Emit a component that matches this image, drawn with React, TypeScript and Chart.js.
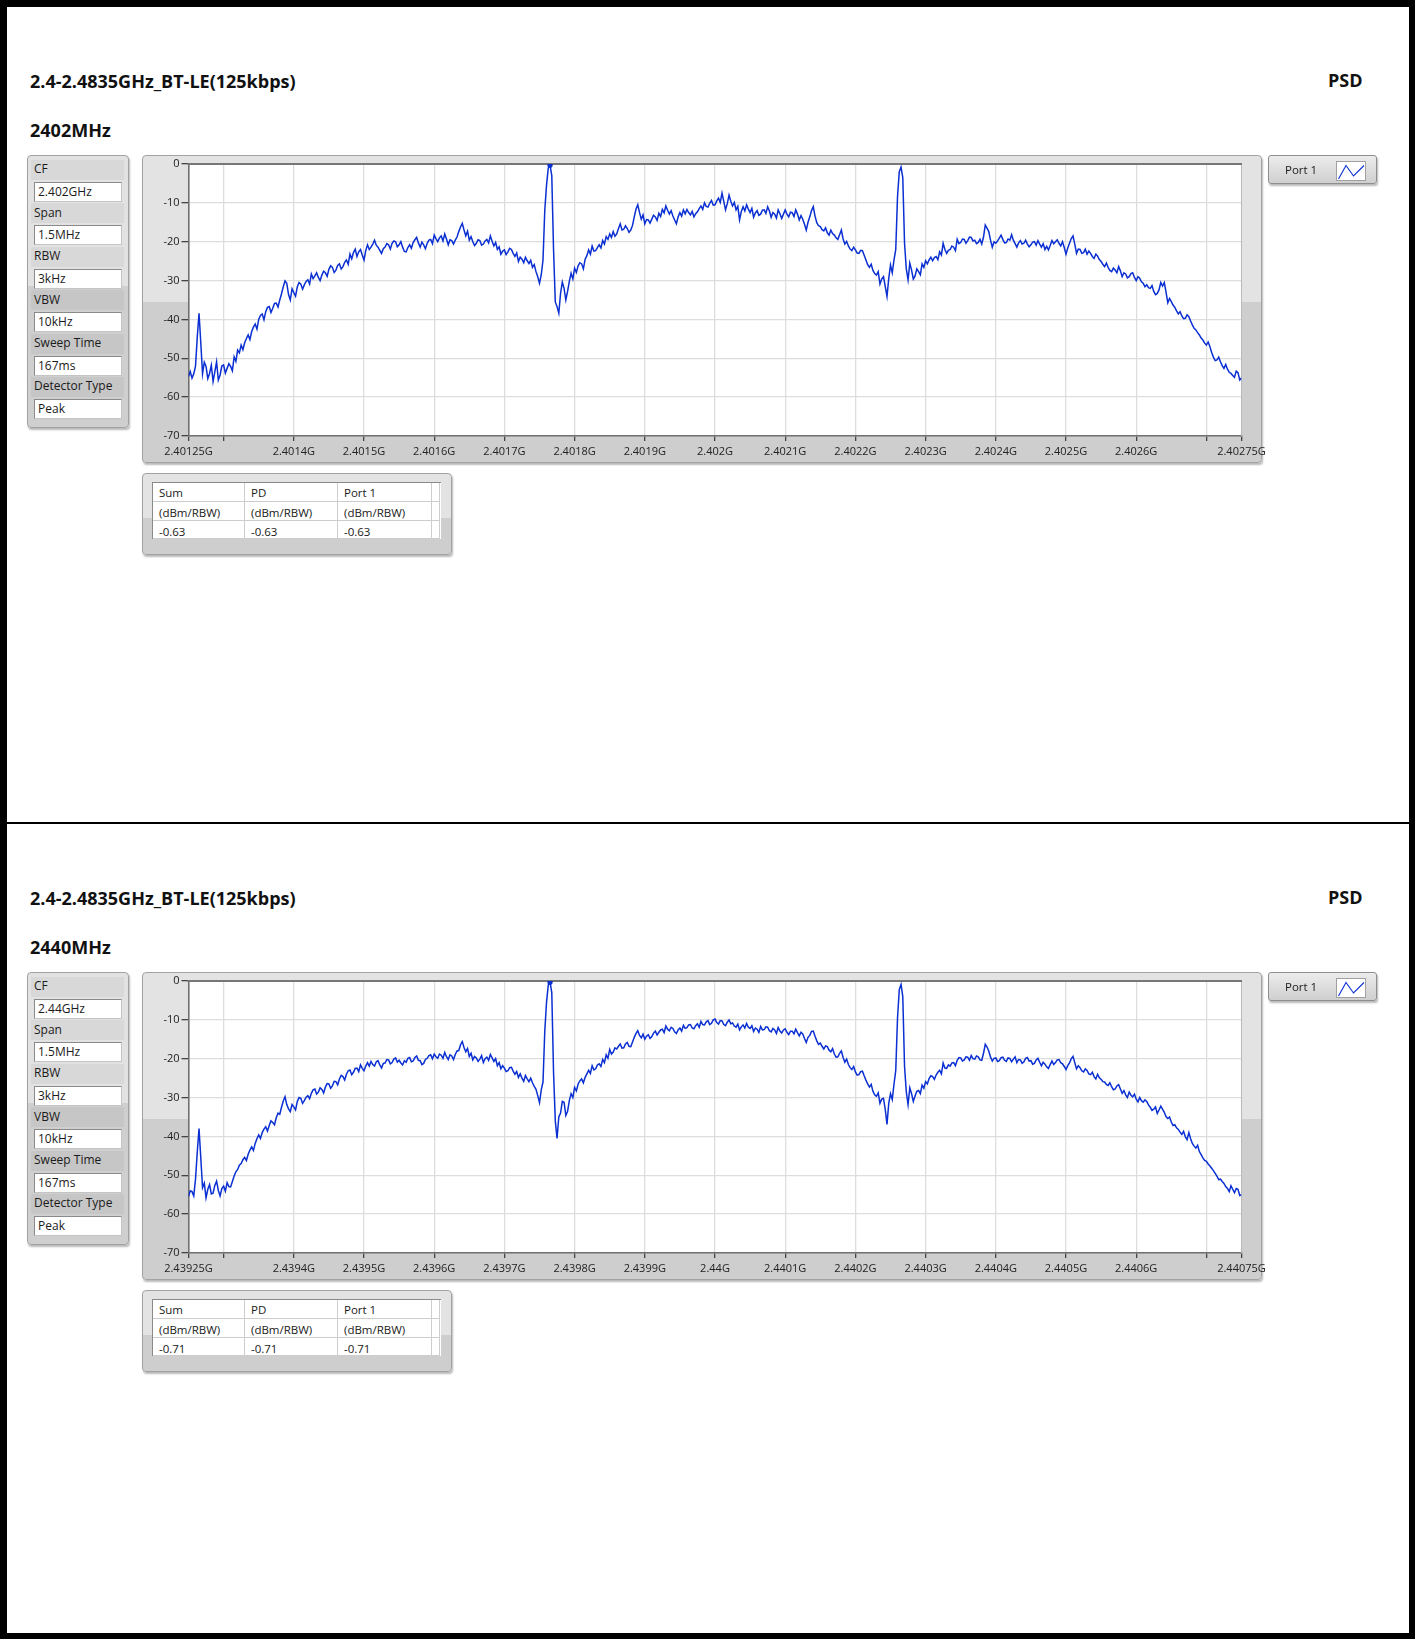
import React, { useEffect, useRef } from "react";
import { Chart, registerables } from "chart.js";

Chart.register(...registerables);

const FONT = '"Open Sans", "Noto Sans", "DejaVu Sans", sans-serif';
const TRACE_COLOR = "#0a2fd2";
const GRID_COLOR = "#dddddd";

// ---------- data ----------
const SPAN_KHZ = 1500;
const STEP_KHZ = 2.5;
const X_TICK_OFFSETS_KHZ = [0, 50, 150, 250, 350, 450, 550, 650, 750, 850, 950, 1050, 1150, 1250, 1350, 1450, 1500];
const TOP_X_TICK_LABELS = ["2.40125G", "", "2.4014G", "2.4015G", "2.4016G", "2.4017G", "2.4018G", "2.4019G", "2.402G", "2.4021G", "2.4022G", "2.4023G", "2.4024G", "2.4025G", "2.4026G", "", "2.40275G"];
const BOTTOM_X_TICK_LABELS = ["2.43925G", "", "2.4394G", "2.4395G", "2.4396G", "2.4397G", "2.4398G", "2.4399G", "2.44G", "2.4401G", "2.4402G", "2.4403G", "2.4404G", "2.4405G", "2.4406G", "", "2.44075G"];
const Y_TICK_VALUES = [0, -10, -20, -30, -40, -50, -60, -70];

const PARAM_LABELS = ["CF", "Span", "RBW", "VBW", "Sweep Time", "Detector Type"];
const TOP_PARAM_VALUES = ["2.402GHz", "1.5MHz", "3kHz", "10kHz", "167ms", "Peak"];
const BOTTOM_PARAM_VALUES = ["2.44GHz", "1.5MHz", "3kHz", "10kHz", "167ms", "Peak"];

const TABLE_HEADERS = ["Sum", "PD", "Port 1"];
const TABLE_UNITS = ["(dBm/RBW)", "(dBm/RBW)", "(dBm/RBW)"];
const TOP_TABLE_VALUES = ["-0.63", "-0.63", "-0.63"];
const BOTTOM_TABLE_VALUES = ["-0.71", "-0.71", "-0.71"];

const TOP_MARKER_KHZ = 515;
const BOTTOM_MARKER_KHZ = 515;

// PSD trace, dBm/RBW, one value every 2.5 kHz across the 1.5 MHz span
const TOP_TRACE_DBM = [
  -54.7, -53.4, -55.1, -54.0, -52.0, -44.5, -38.4, -46.0, -54.0, -51.0,
  -52.1, -55.2, -53.9, -51.8, -56.0, -53.5, -50.9, -55.6, -54.3, -52.0,
  -51.7, -53.8, -52.6, -51.4, -52.1, -53.2, -49.6, -50.8, -47.9, -48.6,
  -46.6, -47.8, -46.0, -44.9, -44.0, -45.2, -43.1, -42.0, -41.2, -42.5,
  -40.0, -39.0, -38.6, -40.1, -38.0, -36.9, -36.7, -38.2, -37.1, -35.9,
  -35.8, -36.8, -35.0, -33.4, -31.6, -30.1, -30.7, -33.6, -35.0, -32.1,
  -33.1, -34.0, -31.6, -30.5, -30.9, -32.2, -31.1, -30.2, -29.8, -30.9,
  -28.3, -29.5, -28.8, -28.0, -29.2, -30.0, -28.6, -27.6, -28.0, -28.9,
  -27.1, -26.2, -26.6, -27.9, -27.3, -26.1, -25.7, -27.0, -26.4, -25.3,
  -24.7, -25.8, -23.2, -24.4, -22.8, -21.9, -23.8, -22.6, -22.0, -23.4,
  -24.7, -22.3, -20.8, -22.0, -21.4, -20.6, -19.6, -20.9, -21.4, -22.2,
  -23.0, -21.8, -21.4, -20.5, -20.8, -21.9, -20.4, -19.8, -20.0, -21.3,
  -20.8, -20.0, -21.4, -22.5, -22.6, -21.5, -20.8, -21.7, -20.2, -19.5,
  -18.9, -20.3, -21.4, -20.1, -20.8, -21.8, -20.4, -19.6, -19.4, -20.5,
  -18.3, -19.2, -20.0, -19.0, -18.5, -19.8, -18.0, -19.3, -20.8, -19.5,
  -19.7, -20.6, -19.6, -18.8, -17.4, -16.2, -15.3, -17.0, -18.5, -17.3,
  -19.6, -18.7, -20.0, -21.0, -20.4, -19.5, -19.7, -20.9, -20.6, -19.8,
  -19.4, -20.3, -18.5, -19.9, -21.1, -20.2, -22.0, -21.3, -23.2, -22.4,
  -22.1, -23.3, -22.6, -21.7, -22.0, -23.0, -23.8, -22.9, -25.1, -24.0,
  -24.5, -25.4, -24.0, -24.9, -25.6, -24.8, -26.6, -25.9, -27.7, -29.0,
  -30.7, -28.5, -24.7, -12.0, -5.5, -1.0, -0.3, -3.0, -22.0, -35.5,
  -36.7, -38.4, -33.3, -30.4, -32.0, -35.0, -32.8, -30.2, -28.1, -29.6,
  -26.8, -27.9, -26.2, -25.4, -25.7, -27.0, -24.5, -23.6, -22.1, -23.2,
  -21.1, -22.4, -22.3, -21.5, -20.8, -21.6, -19.7, -20.6, -18.7, -19.4,
  -18.0, -18.9, -17.4, -18.6, -18.0, -16.6, -15.4, -17.0, -16.8, -15.9,
  -16.6, -17.6, -17.0, -15.8, -13.6, -11.6, -10.5, -12.5, -14.2, -13.1,
  -15.4, -14.3, -14.4, -15.2, -14.2, -13.2, -13.6, -14.5, -12.7, -13.5,
  -11.7, -12.6, -10.8, -11.9, -12.9, -12.0, -13.4, -14.4, -15.4, -13.6,
  -12.5, -13.4, -11.8, -12.8, -11.7, -12.5, -13.1, -12.2, -13.6, -12.8,
  -12.3, -11.5, -10.8, -11.7, -10.0, -10.9, -11.1, -10.1, -9.4, -10.6,
  -10.5, -9.5, -8.8, -9.9, -7.5, -9.6, -11.8, -10.2, -8.0, -9.6,
  -10.8, -9.9, -11.8, -10.9, -14.4, -12.2, -11.0, -12.1, -10.5, -11.6,
  -12.5, -11.4, -13.7, -12.6, -12.0, -13.2, -12.9, -11.9, -11.8, -12.7,
  -11.0, -12.1, -13.7, -12.5, -12.9, -13.9, -11.8, -12.8, -14.0, -12.9,
  -11.8, -12.9, -13.6, -12.4, -12.5, -13.5, -11.8, -12.9, -14.4, -13.3,
  -14.2, -15.5, -17.0, -15.0, -13.6, -12.0, -11.0, -13.4, -15.1, -15.9,
  -16.1, -16.9, -17.2, -16.4, -17.7, -18.3, -17.0, -17.9, -18.3, -19.0,
  -19.4, -18.2, -17.0, -19.3, -20.6, -19.9, -21.1, -21.9, -22.3, -21.4,
  -22.1, -22.9, -23.0, -22.2, -22.3, -23.5, -24.7, -25.9, -26.6, -25.8,
  -27.4, -28.2, -28.6, -27.7, -30.9, -29.6, -29.0, -31.5, -34.1, -29.5,
  -26.0, -28.0, -24.7, -22.0, -8.4, -2.0, -0.8, -3.5, -20.4, -27.0,
  -29.8, -25.5, -27.3, -29.6, -28.8, -27.0, -27.7, -28.5, -25.7, -26.6,
  -24.9, -25.7, -24.7, -24.0, -24.9, -24.1, -23.8, -24.6, -22.6, -23.4,
  -20.4, -22.0, -23.0, -22.2, -22.0, -21.1, -21.4, -22.3, -19.4, -20.5,
  -20.2, -19.3, -19.4, -20.4, -19.7, -18.8, -18.9, -19.8, -19.6, -20.5,
  -20.2, -19.4, -20.6, -18.8, -15.7, -16.5, -17.4, -19.6, -21.4, -20.0,
  -20.4, -19.8, -19.1, -18.3, -19.4, -20.3, -20.2, -19.3, -19.6, -18.2,
  -19.6, -20.5, -21.4, -20.3, -19.7, -20.6, -20.4, -19.6, -20.6, -21.3,
  -20.8, -20.1, -20.0, -20.9, -19.7, -20.6, -21.4, -20.5, -22.0, -21.2,
  -22.1, -21.0, -19.7, -20.5, -20.0, -19.5, -20.4, -21.1, -20.0, -21.5,
  -23.2, -21.6, -20.4, -19.2, -18.5, -20.6, -23.0, -21.9, -22.0, -23.0,
  -22.8, -21.9, -23.2, -22.4, -23.0, -23.8, -24.3, -23.2, -23.7, -24.6,
  -25.1, -25.8, -26.4, -25.5, -26.6, -27.4, -27.7, -26.8, -27.3, -28.0,
  -26.4, -27.5, -29.0, -28.0, -28.3, -29.3, -29.0, -28.2, -28.0, -29.2,
  -30.0, -29.0, -29.4, -30.3, -30.7, -31.6, -31.1, -31.8, -32.0, -31.3,
  -32.8, -33.6, -33.3, -32.4, -30.5, -31.4, -30.5, -33.0, -35.7, -34.6,
  -35.4, -36.3, -36.9, -37.8, -38.6, -38.0, -39.1, -39.8, -39.7, -38.8,
  -39.3, -40.4, -41.4, -42.3, -42.7, -43.4, -44.0, -44.8, -45.3, -46.1,
  -46.6, -45.8, -47.0, -48.5, -49.7, -50.6, -50.4, -49.7, -50.9, -51.9,
  -52.6, -51.6, -52.8, -53.6, -53.9, -54.4, -54.9, -53.3, -53.7, -55.6,
  -55.1,
];

const BOTTOM_TRACE_DBM = [
  -55.5, -54.0, -54.2, -55.3, -51.0, -44.0, -38.0, -45.5, -53.2, -52.0,
  -55.8, -53.6, -52.4, -54.8, -54.6, -52.6, -51.5, -53.9, -55.3, -53.4,
  -52.8, -54.1, -51.9, -52.9, -53.0, -51.6, -50.2, -49.1, -48.5, -47.4,
  -47.0, -46.0, -45.4, -46.2, -44.6, -43.5, -42.7, -43.6, -41.8, -40.6,
  -39.6, -40.5, -39.0, -38.1, -37.5, -38.6, -37.2, -36.0, -36.4, -37.0,
  -35.2, -34.0, -34.3, -32.5, -30.9, -29.8, -31.8, -32.9, -33.6, -31.8,
  -32.4, -33.2, -31.0, -30.0, -30.2, -31.5, -30.8, -29.9, -29.5, -30.3,
  -28.9, -28.0, -27.8, -29.1, -28.6, -27.5, -27.9, -28.8, -27.3, -26.4,
  -26.5, -27.6, -27.0, -25.8, -25.9, -26.7, -25.2, -24.3, -24.6, -25.5,
  -24.0, -23.1, -22.9, -24.1, -23.5, -22.5, -22.4, -23.3, -21.6, -22.5,
  -23.1, -21.9, -21.0, -21.9, -20.7, -21.5, -21.9, -20.8, -20.5, -21.6,
  -22.4, -21.2, -21.1, -20.2, -20.3, -21.3, -21.0, -20.1, -19.8, -20.9,
  -20.4, -21.1, -21.6, -20.5, -20.9, -19.9, -19.7, -20.8, -20.6, -19.7,
  -19.3, -20.4, -20.5, -21.5, -21.2, -20.2, -19.9, -19.2, -19.0, -20.0,
  -18.8, -19.5, -19.9, -18.8, -19.1, -19.9, -18.4, -19.5, -20.2, -19.0,
  -19.3, -20.2, -18.9, -18.0, -17.9, -16.4, -15.6, -17.1, -18.2, -17.4,
  -19.4, -18.6, -20.3, -19.4, -19.8, -20.7, -20.1, -19.2, -21.0, -20.0,
  -19.6, -20.4, -18.9, -19.8, -20.7, -20.0, -21.8, -21.0, -22.6, -21.8,
  -22.4, -23.3, -23.1, -22.3, -22.2, -23.2, -24.0, -23.3, -24.8, -23.9,
  -25.0, -25.8, -24.3, -25.2, -25.9, -25.0, -26.2, -27.1, -27.9, -29.5,
  -31.3, -28.0, -26.0, -13.0, -5.5, -1.0, -0.3, -3.0, -23.5, -36.0,
  -40.5, -35.0, -34.0, -31.0, -31.2, -34.6, -33.5, -30.8, -29.0, -30.0,
  -27.4, -28.3, -26.5, -25.7, -25.2, -26.2, -24.8, -23.9, -23.0, -23.8,
  -21.8, -22.9, -22.6, -21.6, -21.3, -22.0, -20.2, -21.0, -19.0, -19.9,
  -17.6, -18.8, -18.3, -17.2, -17.5, -16.8, -16.2, -17.3, -17.2, -16.2,
  -15.8, -16.8, -16.9, -15.7, -14.5, -13.5, -12.8, -14.0, -14.6, -13.7,
  -15.0, -14.2, -13.8, -14.8, -14.3, -13.4, -12.9, -13.9, -13.2, -12.6,
  -12.4, -13.3, -11.6, -12.4, -12.8, -11.9, -12.2, -13.1, -13.5, -12.6,
  -12.1, -12.9, -11.4, -12.2, -12.0, -11.3, -11.2, -12.1, -12.3, -11.5,
  -11.0, -11.9, -10.4, -11.2, -11.3, -10.5, -10.2, -11.2, -10.9, -10.0,
  -9.8, -10.7, -11.1, -10.2, -10.3, -11.2, -11.5, -10.6, -10.0, -11.0,
  -10.8, -11.6, -11.9, -11.1, -12.6, -11.8, -11.3, -12.1, -10.9, -11.9,
  -12.2, -11.5, -13.0, -12.1, -12.4, -13.2, -11.7, -12.6, -12.5, -11.8,
  -11.9, -12.8, -13.1, -12.2, -12.6, -13.5, -12.0, -12.9, -13.4, -12.6,
  -12.3, -13.2, -13.8, -12.9, -12.9, -13.6, -12.4, -13.3, -14.1, -13.2,
  -13.6, -14.8, -15.8, -14.5, -14.0, -13.0, -12.9, -14.2, -15.4, -16.3,
  -16.0, -16.8, -17.5, -16.7, -16.9, -17.8, -18.2, -17.4, -18.8, -19.6,
  -19.5, -18.6, -18.0, -19.7, -20.9, -20.1, -21.5, -22.3, -22.8, -22.0,
  -23.4, -24.2, -24.1, -23.3, -23.2, -24.4, -25.5, -26.5, -27.3, -26.6,
  -28.4, -29.3, -29.7, -28.8, -31.5, -30.4, -30.2, -33.0, -36.9, -31.5,
  -29.0, -30.5, -26.5, -23.0, -9.5, -2.2, -0.9, -4.0, -22.0, -28.5,
  -31.8, -27.5, -29.0, -31.0, -29.6, -28.4, -28.2, -29.0, -26.8, -27.6,
  -25.9, -26.5, -25.1, -24.4, -24.6, -25.3, -24.2, -23.5, -23.0, -23.9,
  -21.1, -22.4, -22.5, -21.6, -21.9, -21.1, -21.0, -21.8, -20.4, -19.7,
  -19.8, -20.6, -20.3, -19.5, -19.6, -20.4, -19.2, -20.0, -20.1, -19.3,
  -19.5, -20.3, -20.4, -18.6, -16.3, -17.0, -18.0, -19.6, -20.6, -19.9,
  -19.8, -20.7, -20.5, -19.7, -19.6, -20.4, -20.7, -19.8, -19.9, -20.8,
  -20.1, -19.5, -21.0, -20.2, -20.3, -21.2, -20.8, -19.9, -19.7, -20.6,
  -20.5, -21.4, -21.2, -20.3, -19.9, -20.9, -21.8, -20.9, -21.4, -22.1,
  -22.5, -21.5, -20.6, -21.5, -21.0, -20.3, -20.2, -21.0, -21.3, -22.0,
  -22.8, -21.8, -21.1, -20.0, -19.4, -21.0, -22.6, -21.8, -22.3, -23.1,
  -23.4, -22.6, -23.0, -23.9, -24.1, -23.5, -24.6, -25.2, -24.0, -24.9,
  -25.3, -25.9, -26.0, -26.6, -26.9, -26.2, -27.2, -28.0, -27.8, -27.0,
  -26.7, -27.8, -28.9, -28.2, -29.3, -30.0, -28.6, -29.4, -29.8, -29.1,
  -30.4, -31.1, -30.0, -30.8, -31.2, -30.6, -31.0, -31.9, -32.5, -33.3,
  -33.0, -32.4, -34.1, -33.2, -32.2, -33.0, -33.8, -34.9, -35.4, -35.0,
  -36.3, -37.2, -37.0, -37.8, -38.2, -38.9, -39.5, -38.7, -40.1, -40.8,
  -39.0, -40.6, -41.8, -42.5, -43.0, -42.3, -43.9, -44.7, -45.5, -46.2,
  -46.4, -47.1, -47.6, -48.2, -48.8, -49.5, -50.2, -51.1, -51.0, -51.6,
  -52.1, -52.9, -53.4, -54.2, -52.7, -53.6, -54.5, -53.4, -53.6, -55.2,
  -55.0,
];

// ---------- helpers ----------
type TxtProps = { x: number; baseline: number; size: number; bold?: boolean; children: React.ReactNode; color?: string };
function Txt({ x, baseline, size, bold, children, color }: TxtProps) {
  return (
    <div
      style={{
        position: "absolute",
        left: x,
        top: baseline - 0.888 * size,
        fontFamily: FONT,
        fontSize: size,
        lineHeight: `${size}px`,
        fontWeight: bold ? 700 : 400,
        color: color || "#1a1a1a",
        whiteSpace: "nowrap",
      }}
    >
      {children}
    </div>
  );
}

function twoTone(split: number, light = "#e4e4e4", dark = "#d0d0d0") {
  return `linear-gradient(to bottom, ${light} 0px, ${light} ${split}px, ${dark} ${split}px, ${dark} 100%)`;
}

const panelBase: React.CSSProperties = {
  position: "absolute",
  boxSizing: "border-box",
  border: "1px solid #a2a2a2",
  borderRadius: 4,
  boxShadow: "1px 2px 2px rgba(0,0,0,0.28)",
};

const framePlugin = {
  id: "labviewFrame",
  beforeDraw(chart: any) {
    const { ctx, chartArea } = chart;
    const { left, top, right, bottom } = chartArea;
    ctx.save();
    ctx.fillStyle = "#ffffff";
    ctx.fillRect(left, top, right - left, bottom - top);
    ctx.restore();
  },
  beforeDatasetsDraw(chart: any) {
    const { ctx, chartArea } = chart;
    const { left, top, right, bottom } = chartArea;
    ctx.save();
    ctx.strokeStyle = "#b9b9b9";
    ctx.lineWidth = 1;
    ctx.beginPath();
    ctx.moveTo(right, top);
    ctx.lineTo(right, bottom);
    ctx.stroke();
    ctx.strokeStyle = "#777777";
    ctx.lineWidth = 2;
    ctx.beginPath();
    ctx.moveTo(left - 1, top);
    ctx.lineTo(right + 0.5, top);
    ctx.stroke();
    ctx.restore();
  },
};

type PsdProps = { values: number[]; tickLabels: string[]; markerKhz: number };
function PsdChart({ values, tickLabels, markerKhz }: PsdProps) {
  const ref = useRef<HTMLCanvasElement | null>(null);
  useEffect(() => {
    if (!ref.current) return;
    const points = values.map((v, i) => ({ x: i * STEP_KHZ, y: v }));
    const markerIndex = Math.round(markerKhz / STEP_KHZ);
    const isEdgeX = (c: any) => c.tick && (c.tick.value === 0 || c.tick.value === SPAN_KHZ);
    const isEdgeY = (c: any) => c.tick && (c.tick.value === 0 || c.tick.value === -70);
    const chart = new Chart(ref.current, {
      type: "line",
      data: {
        datasets: [
          {
            data: points,
            borderColor: TRACE_COLOR,
            borderWidth: 1.5,
            pointRadius: (c: any) => (c.dataIndex === markerIndex ? 2.6 : 0),
            pointBackgroundColor: TRACE_COLOR,
            pointBorderColor: TRACE_COLOR,
            pointBorderWidth: 0,
            tension: 0,
            fill: false,
          },
        ],
      },
      options: {
        animation: false,
        responsive: false,
        maintainAspectRatio: false,
        parsing: false,
        events: [],
        layout: { padding: { left: 0, top: 9, right: 33.5, bottom: 0 } },
        plugins: { legend: { display: false }, tooltip: { enabled: false } },
        scales: {
          x: {
            type: "linear",
            min: 0,
            max: SPAN_KHZ,
            afterBuildTicks: (s: any) => {
              s.ticks = X_TICK_OFFSETS_KHZ.map((v) => ({ value: v }));
            },
            afterFit: (s: any) => {
              s.height = 27;
            },
            ticks: {
              autoSkip: false,
              maxRotation: 0,
              minRotation: 0,
              padding: 4,
              color: "#222222",
              font: { family: FONT, size: 11 },
              callback: (_v: any, i: number) => tickLabels[i] ?? "",
            },
            grid: {
              color: (c: any) => (isEdgeX(c) ? "rgba(0,0,0,0)" : GRID_COLOR),
              lineWidth: 1.3,
              drawTicks: true,
              tickLength: 5,
              tickColor: "#444444",
              tickWidth: 1.3,
            },
            border: { display: true, color: "#6f6f6f", width: 1.6 },
          },
          y: {
            type: "linear",
            min: -70,
            max: 0,
            afterBuildTicks: (s: any) => {
              s.ticks = Y_TICK_VALUES.map((v) => ({ value: v }));
            },
            afterFit: (s: any) => {
              s.width = 46.5;
            },
            ticks: {
              padding: 2,
              color: "#222222",
              font: { family: FONT, size: 11 },
              callback: (v: any) => String(v),
            },
            grid: {
              color: (c: any) => (isEdgeY(c) ? "rgba(0,0,0,0)" : GRID_COLOR),
              lineWidth: 1.3,
              drawTicks: true,
              tickLength: 7,
              tickColor: "#444444",
              tickWidth: 1.3,
            },
            border: { display: true, color: "#6f6f6f", width: 1.6 },
          },
        },
      },
      plugins: [framePlugin],
    } as any);
    return () => chart.destroy();
  }, [values, tickLabels, markerKhz]);
  return (
    <canvas
      ref={ref}
      width={1133}
      height={308}
      style={{ position: "absolute", left: 142, top: 155, width: 1133, height: 308 }}
    />
  );
}

type SectionProps = {
  top: number;
  subtitle: string;
  paramValues: string[];
  values: number[];
  tickLabels: string[];
  markerKhz: number;
  tableValues: string[];
};

function Section({ top, subtitle, paramValues, values, tickLabels, markerKhz, tableValues }: SectionProps) {
  const colX = [153, 245, 338, 432, 440];
  const rowY = [483, 502, 521, 539];
  const rowBase = [497.5, 517.5, 536];
  const rows = [TABLE_HEADERS, TABLE_UNITS, tableValues];
  return (
    <div style={{ position: "absolute", left: 0, top, width: 1415, height: 817 }}>
      <Txt x={30} baseline={87.5} size={18} bold color="#111">2.4-2.4835GHz_BT-LE(125kbps)</Txt>
      <Txt x={1328} baseline={87} size={18} bold color="#111">PSD</Txt>
      <Txt x={30} baseline={137.3} size={18} bold color="#111">{subtitle}</Txt>

      {/* parameter box */}
      <div style={{ ...panelBase, left: 27, top: 155, width: 102, height: 273, background: twoTone(130, "#e2e2e2", "#cfcfcf") }} />
      {PARAM_LABELS.map((lab, k) => (
        <React.Fragment key={lab}>
          <div
            style={{
              position: "absolute",
              left: 31,
              top: 160 + 43.4 * k,
              width: 93,
              height: 20,
              background: 160 + 43.4 * k < 285 ? "#d8d8d8" : "#c6c6c6",
            }}
          />
          <Txt x={34} baseline={174 + 43.4 * k} size={12}>{lab}</Txt>
          <div
            style={{
              position: "absolute",
              left: 34,
              top: 182 + 43.4 * k,
              width: 88,
              height: 20,
              boxSizing: "border-box",
              background: "#ffffff",
              borderTop: "1px solid #8a8a8a",
              borderLeft: "1px solid #8a8a8a",
              borderRight: "1px solid #c4c4c4",
              borderBottom: "1px solid #c4c4c4",
            }}
          />
          <Txt x={38} baseline={196.7 + 43.4 * k} size={12}>{paramValues[k]}</Txt>
        </React.Fragment>
      ))}

      {/* chart panel */}
      <div style={{ ...panelBase, left: 142, top: 155, width: 1120, height: 308, background: twoTone(146, "#e3e3e3", "#cecece") }} />
      <PsdChart values={values} tickLabels={tickLabels} markerKhz={markerKhz} />

      {/* legend */}
      <div
        style={{
          ...panelBase,
          left: 1268,
          top: 155,
          width: 109,
          height: 29,
          borderRadius: 3,
          border: "1px solid #8e8e8e",
          background: "linear-gradient(to bottom, #ececec 0%, #dcdcdc 55%, #cfcfcf 100%)",
        }}
      />
      <Txt x={1285} baseline={174.3} size={11.5}>Port 1</Txt>
      <svg
        width={30}
        height={20}
        style={{ position: "absolute", left: 1336, top: 161, background: "#fff", boxSizing: "border-box", border: "1px solid #a0a0a0" }}
      >
        <polyline points="1.5,17 9,3.5 16.5,14 27,3.5" fill="none" stroke={TRACE_COLOR} strokeWidth={1.1} />
      </svg>

      {/* table */}
      <div style={{ ...panelBase, left: 142, top: 473, width: 310, height: 82, background: twoTone(44, "#e3e3e3", "#cecece") }} />
      <div
        style={{
          position: "absolute",
          left: 152,
          top: 482,
          width: 289,
          height: 57,
          boxSizing: "border-box",
          borderTop: "1px solid #8a8a8a",
          borderLeft: "1px solid #8a8a8a",
          background: "#ffffff",
        }}
      />
      {rows.map((row, r) =>
        [0, 1, 2, 3].map((c) => (
          <div
            key={`${r}-${c}`}
            style={{
              position: "absolute",
              left: colX[c],
              top: rowY[r],
              width: colX[c + 1] - colX[c],
              height: rowY[r + 1] - rowY[r],
              boxSizing: "border-box",
              borderRight: "1px solid #cdcdcd",
              borderBottom: "1px solid #cdcdcd",
              background: "#ffffff",
            }}
          />
        ))
      )}
      {rows.map((row, r) =>
        row.map((t, c) => (
          <Txt key={`t${r}-${c}`} x={colX[c] + 6} baseline={rowBase[r]} size={11.5}>
            {t}
          </Txt>
        ))
      )}
    </div>
  );
}

export default function App() {
  return (
    <div style={{ position: "relative", width: 1415, height: 1639, background: "#ffffff", overflow: "hidden" }}>
      <style>{"body{margin:0;background:#fff;}"}</style>
      <Section
        top={0}
        subtitle="2402MHz"
        paramValues={TOP_PARAM_VALUES}
        values={TOP_TRACE_DBM}
        tickLabels={TOP_X_TICK_LABELS}
        markerKhz={TOP_MARKER_KHZ}
        tableValues={TOP_TABLE_VALUES}
      />
      <Section
        top={817}
        subtitle="2440MHz"
        paramValues={BOTTOM_PARAM_VALUES}
        values={BOTTOM_TRACE_DBM}
        tickLabels={BOTTOM_X_TICK_LABELS}
        markerKhz={BOTTOM_MARKER_KHZ}
        tableValues={BOTTOM_TABLE_VALUES}
      />
      {/* outer black frame and divider */}
      <div style={{ position: "absolute", left: 0, top: 0, width: 7, height: 1639, background: "#000" }} />
      <div style={{ position: "absolute", left: 0, top: 0, width: 1415, height: 7, background: "#000" }} />
      <div style={{ position: "absolute", left: 1409, top: 0, width: 6, height: 1639, background: "#000" }} />
      <div style={{ position: "absolute", left: 0, top: 1633, width: 1415, height: 6, background: "#000" }} />
      <div style={{ position: "absolute", left: 0, top: 821.5, width: 1415, height: 2.5, background: "#000" }} />
    </div>
  );
}
